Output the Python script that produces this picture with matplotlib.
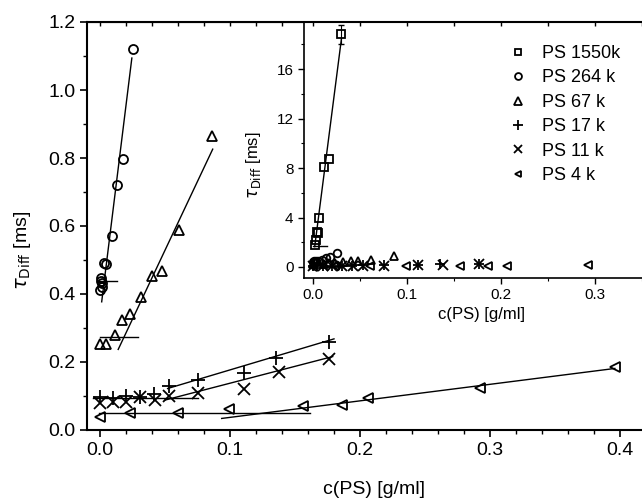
import matplotlib
matplotlib.use("Agg")
import matplotlib.pyplot as plt
import numpy as np

plt.rcParams['font.family'] = ['Liberation Sans', 'DejaVu Sans']
plt.rcParams['mathtext.fontset'] = 'dejavusans'

# data
ps1550_x = [0.002, 0.0028, 0.0039, 0.005, 0.0064, 0.011, 0.0163, 0.0298]
ps1550_y = [1.78, 2.18, 2.85, 2.75, 3.93, 8.06, 8.7, 18.8]
ps1550_err = 0.75

ps264_x = [0.0, 0.0013, 0.0005, 0.0008, 0.0013, 0.0033, 0.0044, 0.009, 0.0133, 0.018, 0.025]
ps264_y = [0.412, 0.42, 0.446, 0.438, 0.431, 0.492, 0.487, 0.571, 0.72, 0.797, 1.12]

ps67_x = [0.0, 0.005, 0.0115, 0.017, 0.023, 0.0315, 0.040, 0.048, 0.061, 0.086]
ps67_y = [0.253, 0.253, 0.279, 0.323, 0.341, 0.390, 0.454, 0.469, 0.588, 0.866]

ps17_x = [0.0, 0.010, 0.020, 0.031, 0.0415, 0.053, 0.075, 0.111, 0.135, 0.176]
ps17_y = [0.098, 0.094, 0.100, 0.098, 0.105, 0.129, 0.148, 0.167, 0.211, 0.258]

ps11_x = [0.0, 0.010, 0.020, 0.031, 0.042, 0.053, 0.075, 0.111, 0.138, 0.176]
ps11_y = [0.079, 0.081, 0.083, 0.098, 0.088, 0.099, 0.110, 0.122, 0.172, 0.209]

ps4_x = [0.0, 0.023, 0.060, 0.099, 0.156, 0.186, 0.206, 0.292, 0.396]
ps4_y = [0.039, 0.049, 0.051, 0.061, 0.072, 0.075, 0.093, 0.124, 0.186]

# fitted lines: (x0, x1), (y0, y1)
fit_lines = [
    ((0.0013, 0.0245), (0.377, 1.094)),   # 264k slope
    ((-0.0013, 0.0128), (0.438, 0.438)),  # 264k plateau
    ((0.014, 0.0867), (0.237, 0.826)),    # 67k slope
    ((0.0, 0.029), (0.2745, 0.2745)),     # 67k plateau
    ((0.052, 0.180), (0.122, 0.268)),     # 17k slope
    ((-0.005, 0.075), (0.094, 0.094)),    # 17k plateau
    ((0.050, 0.179), (0.088, 0.216)),     # 11k slope
    ((-0.001, 0.1615), (0.051, 0.051)),   # 4k plateau
    ((0.0936, 0.396), (0.034, 0.181)),    # 4k slope
]
inset_lines = [
    ((0.0014, 0.0298), (1.64, 18.4)),
    ((0.0, 0.015), (1.7, 1.7)),
]

labels = ['PS 1550k', 'PS 264 k', 'PS 67 k', 'PS 17 k', 'PS 11 k', 'PS 4 k']
series = [(ps1550_x, ps1550_y, 's'), (ps264_x, ps264_y, 'o'), (ps67_x, ps67_y, '^'),
          (ps17_x, ps17_y, '+'), (ps11_x, ps11_y, 'x'), (ps4_x, ps4_y, '<')]
main_ms = {'s': 6, 'o': 6.5, '^': 7, '+': 10, 'x': 9, '<': 6.5}
inset_ms = {'s': 5.5, 'o': 5.5, '^': 6, '+': 7.5, 'x': 7, '<': 5.5}

fig = plt.figure(figsize=(6.42, 5.0), dpi=100)
W, H = 642.0, 500.0

# main axes
ax = fig.add_axes([87 / W, 1 - 430 / H, (660 - 87) / W, 408 / H])
for xs, ys, m in series[1:]:
    ax.plot(xs, ys, linestyle='none', marker=m, ms=main_ms[m], mfc='none',
            mec='k', mew=1.3)
for (x0, x1), (y0, y1) in fit_lines:
    ax.plot([x0, x1], [y0, y1], color='k', lw=1.0)

ax.set_xlim(-0.01, (660 - 100) / 1300.0)
ax.set_ylim(0, 1.2)
ax.set_xticks([0.0, 0.1, 0.2, 0.3, 0.4])
ax.set_xticklabels(['0.0', '0.1', '0.2', '0.3', '0.4'])
ax.set_yticks(np.arange(0, 1.21, 0.2))
ax.set_yticklabels(['%.1f' % v for v in np.arange(0, 1.21, 0.2)])
ax.set_xticks(np.arange(0, 0.43, 0.02), minor=True)
ax.set_yticks(np.arange(0, 1.21, 0.1), minor=True)
ax.tick_params(which='major', direction='out', length=5, width=1.2, labelsize=14)
ax.tick_params(which='minor', direction='out', length=3, width=1.0)
for s in ax.spines.values():
    s.set_linewidth(1.5)
top = ax.secondary_xaxis('top')
top.set_xticks(np.arange(0, 0.43, 0.02))
top.set_xticklabels([])
top.tick_params(direction='in', length=3, width=1.0)
ax.set_xlabel('c(PS) [g/ml]', fontsize=14)
ax.set_ylabel(r'$\tau_{\mathrm{Diff}}$ [ms]', fontsize=14)
ax.xaxis.set_label_coords(0.5, -0.125)
ax.yaxis.set_label_coords(-0.095, 0.44)

# inset
ins = fig.add_axes([304 / W, 1 - 278 / H, (660 - 304) / W, 256 / H])
handles = []
for (xs, ys, m), lab in zip(series, labels):
    h, = ins.plot(xs, ys, linestyle='none', marker=m, ms=inset_ms[m], mfc='none',
                  mec='k', mew=1.3, label=lab)
    handles.append(h)
ins.errorbar(ps1550_x[-1:], ps1550_y[-1:], yerr=ps1550_err, fmt='none',
             ecolor='k', elinewidth=0.8, capsize=2)
for (x0, x1), (y0, y1) in inset_lines:
    ins.plot([x0, x1], [y0, y1], color='k', lw=1.0)
ins.set_xlim(-0.01, (660 - 313) / 940.0)
ins.set_ylim((267 - 278) / 12.375, (267 - 22) / 12.375)
ins.set_xticks([0.0, 0.1, 0.2, 0.3])
ins.set_xticklabels(['0.0', '0.1', '0.2', '0.3'])
ins.set_yticks([0, 4, 8, 12, 16])
ins.set_xticks(np.arange(0, 0.37, 0.05), minor=True)
ins.set_yticks(np.arange(0, 19, 2), minor=True)
ins.tick_params(which='major', direction='out', length=4, width=1.0, labelsize=11)
ins.tick_params(which='minor', direction='out', length=2.5, width=0.8)
for s in ins.spines.values():
    s.set_linewidth(1.2)
itop = ins.secondary_xaxis('top')
itop.set_xticks(np.arange(0, 0.37, 0.05))
itop.set_xticklabels([])
itop.tick_params(direction='in', length=3, width=1.0)
ins.set_xlabel('c(PS) [g/ml]', fontsize=12, labelpad=3)
ins.set_ylabel(r'$\tau_{\mathrm{Diff}}$ [ms]', fontsize=12)
ins.yaxis.set_label_coords(-0.115, 0.44)
ins.legend(handles=handles, loc='upper left', bbox_to_anchor=(500 / W, 1 - 36 / H),
           bbox_transform=fig.transFigure, frameon=False, fontsize=13,
           handlelength=1.0, handletextpad=0.8, labelspacing=0.41, borderpad=0,
           markerscale=0.9)

plt.savefig('out.png', dpi=100)
